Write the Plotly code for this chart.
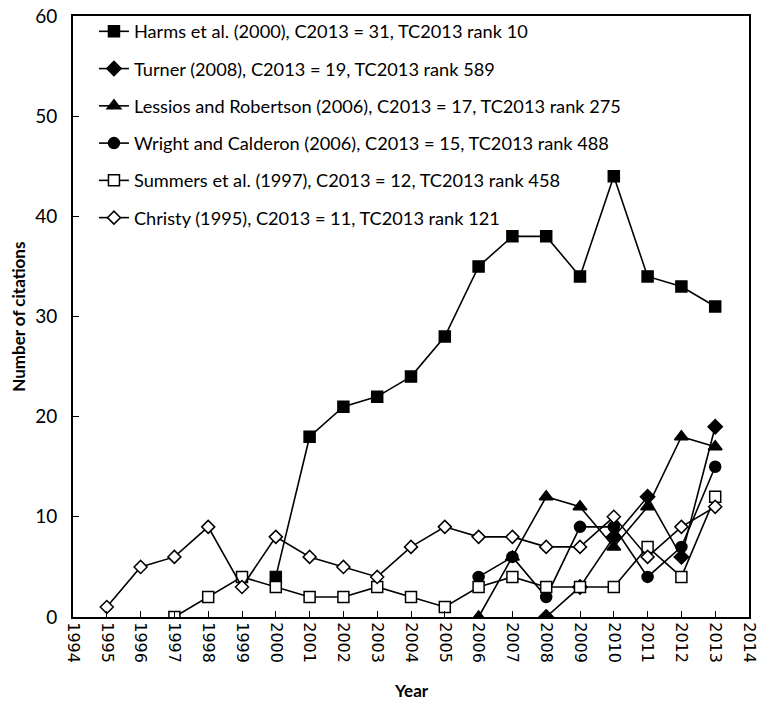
import plotly.graph_objects as go

harms_years = list(range(2000, 2014))
harms_vals = [4, 18, 21, 22, 24, 28, 35, 38, 38, 34, 44, 34, 33, 31]

turner_years = list(range(2008, 2014))
turner_vals = [0, 3, 8, 12, 6, 19]

lessios_years = list(range(2006, 2014))
lessios_vals = [0, 6, 12, 11, 7, 11, 18, 17]

wright_years = list(range(2006, 2014))
wright_vals = [4, 6, 2, 9, 9, 4, 7, 15]

summers_years = list(range(1997, 2014))
summers_vals = [0, 2, 4, 3, 2, 2, 3, 2, 1, 3, 4, 3, 3, 3, 7, 4, 12]

christy_years = list(range(1995, 2014))
christy_vals = [1, 5, 6, 9, 3, 8, 6, 5, 4, 7, 9, 8, 8, 7, 7, 10, 6, 9, 11]

labels = [
    "Harms et al. (2000), C2013 = 31, TC2013 rank 10",
    "Turner (2008), C2013 = 19, TC2013 rank 589",
    "Lessios and Robertson (2006), C2013 = 17, TC2013 rank 275",
    "Wright and Calderon (2006), C2013 = 15, TC2013 rank 488",
    "Summers et al. (1997), C2013 = 12, TC2013 rank 458",
    "Christy (1995), C2013 = 11, TC2013 rank 121",
]

x_ticks = list(range(1994, 2015))

series = [
    (harms_years, harms_vals, labels[0], "square", 11, "black"),
    (turner_years, turner_vals, labels[1], "diamond", 11, "black"),
    (lessios_years, lessios_vals, labels[2], "triangle-up", 12, "black"),
    (wright_years, wright_vals, labels[3], "circle", 11, "black"),
    (summers_years, summers_vals, labels[4], "square", 11, "white"),
    (christy_years, christy_vals, labels[5], "diamond", 10, "white"),
]

FONT = "Lato"
fig = go.Figure()
for i, (xs, ys, name, sym, size, fill) in enumerate(series):
    fig.add_trace(go.Scatter(
        x=xs, y=ys, name=name, mode="lines+markers",
        legendgroup=f"g{i}",
        line=dict(color="black", width=1.6),
        marker=dict(symbol=sym, size=size, color=fill,
                    line=dict(color="black", width=1.5)),
    ))

fig.update_layout(
    width=759, height=703,
    margin=dict(l=73, r=10, t=16, b=86),
    plot_bgcolor="white", paper_bgcolor="white",
    font=dict(family=FONT, color="black", size=17),
    showlegend=True,
    legend=dict(x=0.031, y=1.005, xanchor="left", yanchor="top",
                bgcolor="rgba(0,0,0,0)", font=dict(size=18.2, family=FONT),
                tracegroupgap=10.6, itemwidth=30),
    xaxis=dict(
        range=[1994, 2014], tickmode="array", tickvals=x_ticks,
        ticktext=[str(v) for v in x_ticks], tickangle=90,
        ticks="inside", ticklen=6, tickwidth=1.2, tickcolor="black",
        showline=True, linecolor="black", linewidth=2, mirror=True,
        showgrid=False, zeroline=False, automargin=False,
        tickfont=dict(size=16, family="DejaVu Sans"),
        ticklabeloverflow="allow",
    ),
    yaxis=dict(
        range=[0, 60], dtick=10, ticks="inside", ticklen=6, tickwidth=1.2,
        tickcolor="black", showline=True, linecolor="black", linewidth=2,
        mirror=True, showgrid=False, zeroline=False, automargin=False,
        tickfont=dict(size=19), ticklabelstandoff=10,
        ticklabeloverflow="allow",
    ),
    annotations=[
        dict(text="<b>Year</b>", xref="paper", yref="paper", x=0.5, y=-0.122,
             xanchor="center", yanchor="middle", showarrow=False,
             font=dict(size=17)),
        dict(text="<b>Number of citations</b>", xref="paper", yref="paper",
             x=-0.081, y=0.5, xanchor="center", yanchor="middle",
             textangle=-90, showarrow=False, font=dict(size=17)),
    ],
)

fig.write_html("out.html",
               config={"displayModeBar": False},
               post_script="document.body.style.margin='0px';document.body.style.overflow='hidden';")
